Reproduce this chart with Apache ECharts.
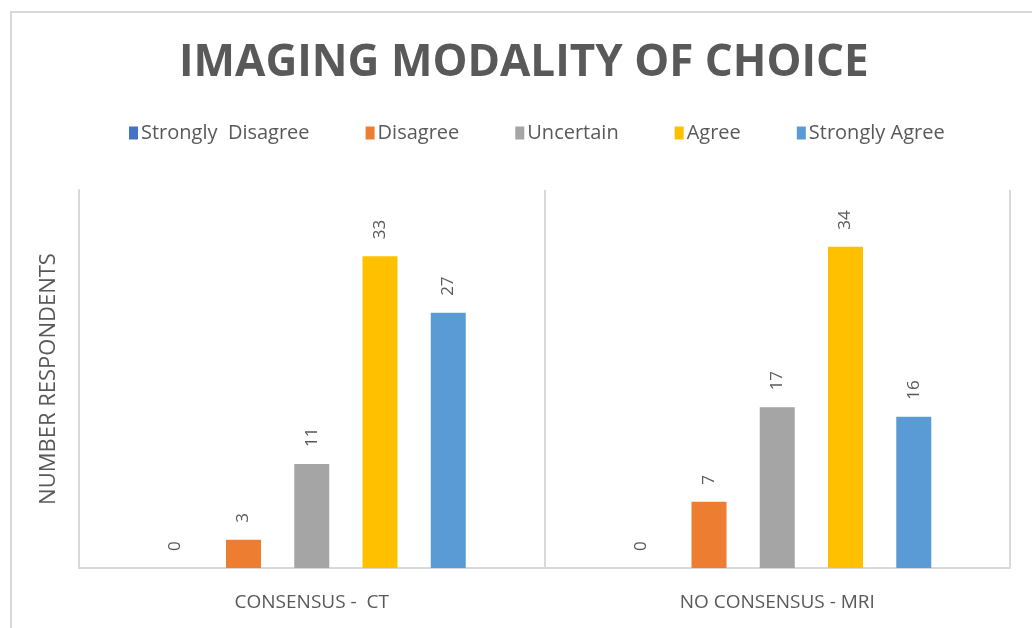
<!DOCTYPE html>
<html>
<head>
<meta charset="utf-8">
<script src="https://cdn.jsdelivr.net/npm/echarts@6/dist/echarts.min.js"></script>
<style>
  html, body { margin: 0; padding: 0; background: #fff; }
  #chart { width: 1032px; height: 628px; }
</style>
</head>
<body>
<div id="chart"></div>
<script>
  // categories on the x axis
  var categories = ['CONSENSUS -  CT', 'NO CONSENSUS - MRI']
  // one series per response
  var stronglyDisagree = [0, 0]
  var disagree = [3, 7]
  var uncertain = [11, 17]
  var agree = [33, 34]
  var stronglyAgree = [27, 16]

  var seriesNames = ['Strongly  Disagree', 'Disagree', 'Uncertain', 'Agree', 'Strongly Agree']
  var seriesData = [stronglyDisagree, disagree, uncertain, agree, stronglyAgree]
  var colors = ['#4472C4', '#ED7D31', '#A5A5A5', '#FFC000', '#5B9BD5']

  var textColor = '#595959'
  var lineColor = '#d9d9d9'
  var font = 'Open Sans'

  var chart = echarts.init(document.getElementById('chart'))

  chart.setOption({
    animation: false,
    color: colors,
    title: {
      text: 'IMAGING MODALITY OF CHOICE',
      left: 174,
      top: 36,
      textStyle: {
        color: textColor,
        fontFamily: font,
        fontWeight: 'bold',
        fontSize: 44
      }
    },
    legend: {
      top: 118,
      left: 124,
      itemWidth: 9,
      itemHeight: 13,
      itemGap: 56,
      icon: 'rect',
      textStyle: {
        color: textColor,
        fontFamily: font,
        fontSize: 20,
        padding: [0, 0, 0, -2]
      },
      data: seriesNames
    },
    graphic: [{
      type: 'rect',
      shape: {x: 11, y: 12, width: 1040, height: 640},
      style: {fill: 'none', stroke: lineColor, lineWidth: 2},
      silent: true
    }],
    grid: {
      left: 79,
      right: 22,
      top: 190,
      bottom: 60
    },
    xAxis: {
      type: 'category',
      data: categories,
      axisTick: {show: false},
      axisLine: {lineStyle: {color: lineColor, width: 2}},
      splitLine: {show: true, lineStyle: {color: lineColor, width: 2}},
      axisLabel: {
        color: textColor,
        fontFamily: font,
        fontSize: 19,
        margin: 25
      }
    },
    yAxis: {
      type: 'value',
      min: 0,
      max: 40,
      splitLine: {show: false},
      axisLabel: {show: false},
      axisTick: {show: false},
      axisLine: {show: true, lineStyle: {color: lineColor, width: 2}},
      name: 'NUMBER RESPONDENTS',
      nameLocation: 'middle',
      nameGap: 19,
      nameTextStyle: {
        color: textColor,
        fontFamily: font,
        fontSize: 22
      }
    },
    series: seriesNames.map(function (name, i) {
      return {
        name: name,
        type: 'bar',
        data: seriesData[i],
        barWidth: 35,
        barGap: '95%',
        label: {
          show: true,
          position: 'top',
          rotate: 90,
          align: 'left',
          verticalAlign: 'middle',
          distance: 17,
          color: textColor,
          fontFamily: font,
          fontSize: 17
        }
      }
    })
  })
</script>
</body>
</html>
